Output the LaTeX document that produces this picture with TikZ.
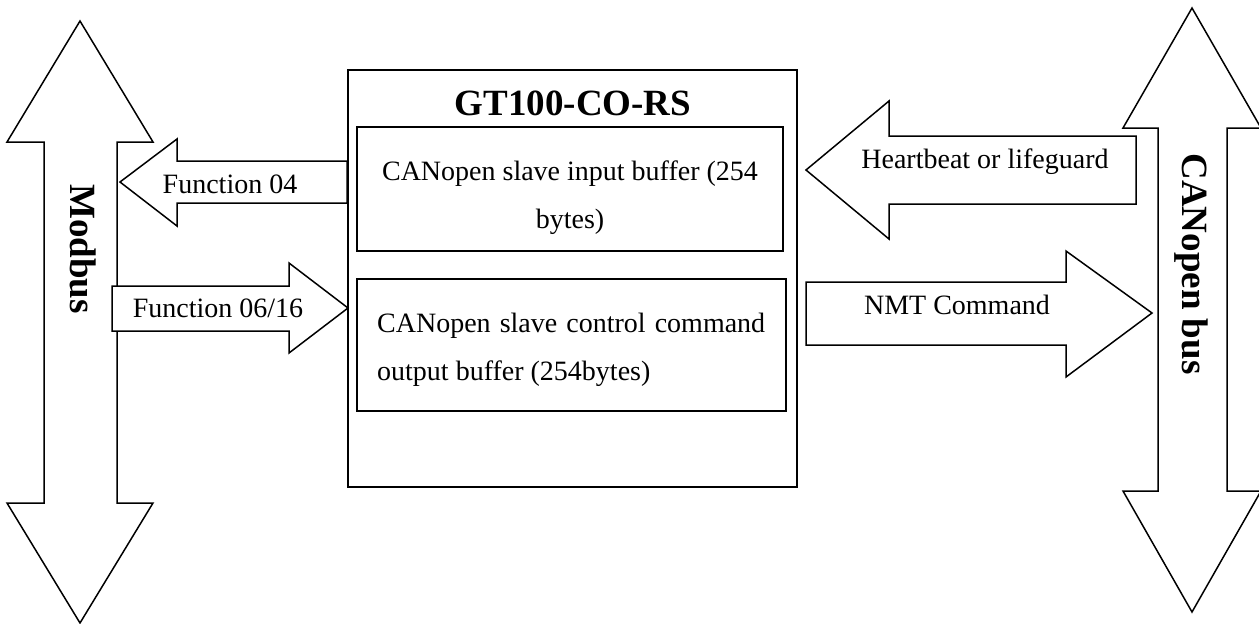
\documentclass[tikz,border=0pt]{standalone}
\usepackage{fontspec}
\setmainfont{Liberation Serif}
\begin{document}
\begin{tikzpicture}[x=1pt,y=-1pt,
  outline/.style={draw=black,line width=1.5pt,line join=miter},
  blockarrow/.style={outline,fill=white},
  lbl/.style={inner sep=0pt,font=\fontsize{28}{48}\selectfont},
  boldlbl/.style={inner sep=0pt,font=\fontsize{37}{40}\selectfont\bfseries}]
\useasboundingbox (0,0) rectangle (1259,624);
% main device box
\draw[outline] (348,70) rectangle (797,487);
\node[boldlbl,anchor=base] (title) at (573,115) {GT100-CO-RS};
\draw[outline] (357,127) rectangle (783,251);
\node[lbl,anchor=base,align=center] (inbuf) at (570,228) {CANopen slave input buffer (254\\bytes)};
\draw[outline] (357,279) rectangle (786,411);
\node[lbl,anchor=base west,align=left] (outbuf) at (377,380) {\makebox[388pt][s]{CANopen slave control command}\\output buffer (254bytes)};
% Modbus double arrow
\begin{scope}
\clip (0,0) rectangle (1259,624);
\draw[blockarrow] (80,21) -- (153,142) -- (117,142) -- (117,503) -- (153,503) -- (80,623) -- (7,503) -- (44,503) -- (44,142) -- (7,142) -- cycle;
% CANopen bus double arrow
\draw[blockarrow] (1192,8) -- (1261,128) -- (1227,128) -- (1227,491) -- (1261,491) -- (1192,612) -- (1123,491) -- (1158,491) -- (1158,128) -- (1123,128) -- cycle;
\end{scope}
\node[boldlbl,rotate=-90,anchor=base] (modbus) at (70,249) {Modbus};
\node[boldlbl,rotate=-90,anchor=base] (canbus) at (1182,264) {CANopen bus};
% Function 04 arrow
\draw[blockarrow] (120,182) -- (177,139) -- (177,161) -- (347,161) -- (347,203) -- (177,203) -- (177,226) -- cycle;
\node[lbl,anchor=base] (f04) at (230,193) {Function 04};
% Function 06/16 arrow
\draw[blockarrow] (112,286) -- (289,286) -- (289,263) -- (348,308) -- (289,353) -- (289,331) -- (112,331) -- cycle;
\node[lbl,anchor=base] (f0616) at (218,317) {Function 06/16};
% Heartbeat arrow
\draw[blockarrow] (806,170) -- (889,101) -- (889,136) -- (1136,136) -- (1136,204) -- (889,204) -- (889,239) -- cycle;
\node[lbl,anchor=base] (hb) at (985,168) {Heartbeat or lifeguard};
% NMT arrow
\draw[blockarrow] (806,282) -- (1066,282) -- (1066,251) -- (1152,313) -- (1066,377) -- (1066,345) -- (806,345) -- cycle;
\node[lbl,anchor=base] (nmt) at (957,314) {NMT Command};
\end{tikzpicture}
\end{document}
